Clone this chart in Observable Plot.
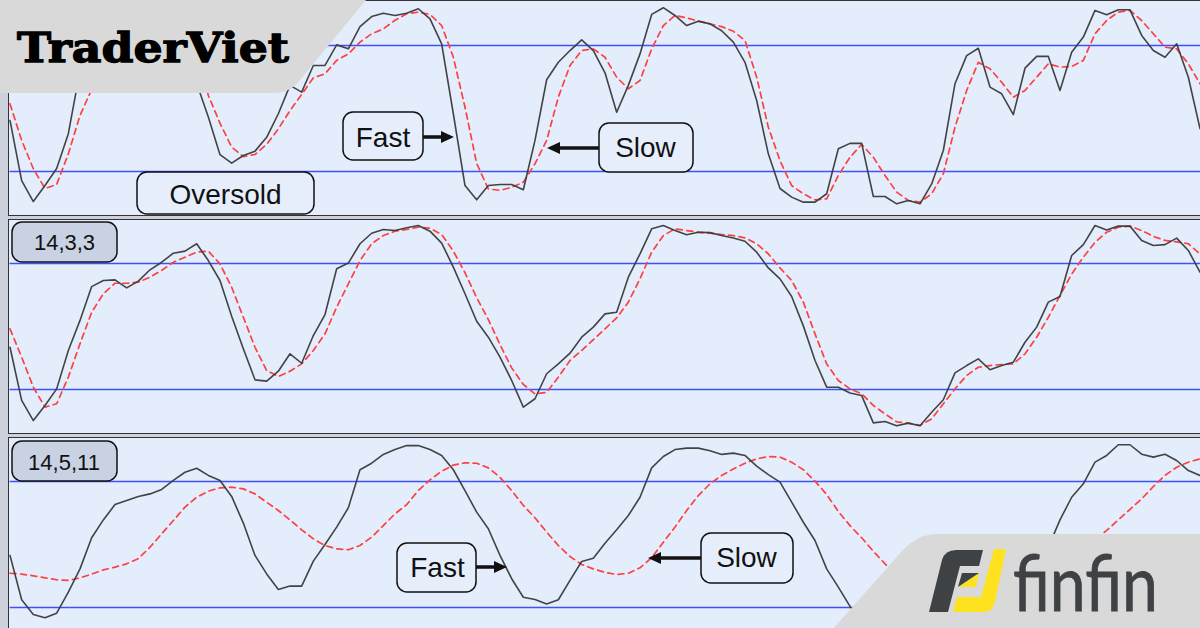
<!DOCTYPE html>
<html><head><meta charset="utf-8">
<script src="https://cdn.jsdelivr.net/npm/d3@7"></script>
<script src="https://cdn.jsdelivr.net/npm/@observablehq/plot@0.6"></script>
<style>
html,body{margin:0;padding:0;background:#ccd1db;}
#root{position:relative;width:1200px;height:628px;overflow:hidden;background:#ccd1db;font-family:"Liberation Sans",Arial,sans-serif;}
.panel{position:absolute;left:8px;width:1200px;box-sizing:border-box;background:#e4edfc;border:1.5px solid #333;}
svg.overlay{position:absolute;left:0;top:0;}
</style></head><body><div id="root"></div>
<script>
// Stochastic oscillator values (0-100), one per bar
const p1Fast = [44.3,15.7,5.7,13.3,21.4,38,68,78,86,90,88,92,94,95,92,80,62,45.9,28,24,27.6,29.7,36.3,47.5,61,57.8,70.5,70.5,80.3,78.4,89,93.8,95.4,94.3,95.4,97.5,92.7,80.8,47.5,13.3,6.5,13.3,13.8,13.8,11.3,34.8,63.7,72,77.6,82.7,77.6,67,48.2,61,76,94.8,98,94.3,89.5,91.6,90.3,87,81.6,72,53.8,28.4,11.9,7.8,5.4,5.4,9.4,30.8,33.4,33.4,8.1,8.1,4.6,6.2,4.6,14.1,30,61.8,75.2,78.7,60.2,57,47.1,69.2,74.8,74.8,58.6,76.8,84,96.7,94.6,97,97,84.8,77.6,74.4,80.8,64.9,40.4];
const p1Slow = [52.2,34.8,21.3,11.9,13.8,28.4,46.7,59,72,82,88,90,91,93,94,89,78,56.2,43,31.6,27.1,28.1,32.9,40.3,49,56.7,64.6,66.5,72.9,76,81.6,85.6,87.9,92,95.1,95.9,94.8,89.5,74.4,50.6,23.8,11.7,11,12.5,14.9,23.7,34.8,55.4,70.5,77.6,78.4,74.4,64.9,59.4,63.3,78.4,89.5,94.3,93.2,91.6,90.3,89,86.8,82.4,64.9,41.1,25.2,13.3,9.4,6.5,7,18.1,26.8,32.9,26.8,18.1,10.2,6.2,5.4,9.4,18.9,41.1,58.6,72,68.9,62.5,55.4,58.6,64.9,71.3,69.7,70,72.9,85.6,91.9,95.9,96.7,91.9,85.6,79.2,78.4,71.3,61.8];
const p2Fast = [40.1,14.8,5.2,12.4,20.3,38.6,52.9,69,71.9,72.2,68.4,71.6,77,80.6,84.9,85.9,89.4,81.4,71.9,54.9,39.4,24.6,24,28.7,37,32.5,45.7,55.7,77.5,80.2,89.4,94.4,96.2,95.7,97,98.1,95.4,89.7,78.3,65.6,52.5,44.9,35.4,24.3,11.6,15.6,27.5,32.2,37.3,44.9,49.7,56,56.8,73.5,84.6,96.5,98.1,95.7,93.7,94.9,94.7,93.3,92.1,90.6,85.4,77.9,72.7,64.3,50.3,33.8,21.1,21.1,18.3,17.1,4.1,4.8,2.7,4,2.7,9.2,15.1,27.9,31.4,34.6,29.4,31.4,33,42.5,49.7,61.6,64.3,83.8,89,98.1,96,97.8,97.8,91,88.6,89,92.1,86.2,75.9];
const p2Slow = [48.9,35.4,21.1,11.6,13.2,25.9,41.8,56.8,65.6,70.6,70.6,71.1,73.5,76.7,80.6,83,85.4,85.9,79.8,68.7,54.4,40.1,29,26.2,28.7,32.2,38.6,46.5,59.2,70.3,81.4,89.4,93.3,95.4,96.2,97.3,96.8,93.8,85.9,75.6,63.7,53.3,41.4,30.3,22.4,17.9,18.6,25.9,33.8,38.6,43.7,48.9,54.1,61.6,72.7,85.4,93.3,96.5,95.7,94.9,94.4,93.8,93.3,92.2,89.4,84.6,77.9,71.9,61.6,46.5,32.2,24.3,20.3,18,12.4,8.4,4.6,4,2.9,6,13.2,20.3,26.7,30.6,31.4,31.9,32.2,37,44.9,54.4,64.8,75,83,90.1,94.9,97.3,97.8,95.7,92.9,91,90.3,89.4,84.6];
const p3Fast = [44.8,23.7,16.7,15.1,17.3,27.3,38.4,53.2,61.7,69,71,72.9,74.1,76.2,80.5,84.4,86.3,82.9,80.5,72.9,60.2,44.8,36,28.6,30.2,30.2,42.1,50,58.3,67.5,85.6,88.7,92.9,95.2,97.1,97.1,95.2,92.4,85.6,75.7,65.4,57.5,44.8,33.7,24.9,23.8,21.7,23.7,32.9,41.9,43.5,50.6,57,63.8,72.5,86.5,91.9,95.2,95.9,95.9,94.6,92.9,93.5,92.4,87.3,83.3,79.7,70.2,60.6,51.9,38.4,29.7,20.5,14,9,6,4,4,5,7,11,17,22,26,29,31,33,36,42,48.7,61.7,72.5,78.9,89.2,92.4,97.5,97.5,93,91.6,93,90,85.2,82.9];
const p3Slow = [36.3,35.9,35.1,34.1,33.2,32.9,34.1,35.9,37.9,39.2,40.8,43.3,48.7,55.1,61.4,67.8,72.5,75.4,77,77.3,76.5,74.1,70.1,66.2,61.7,57,52.7,49.5,47.9,47.5,49.5,53.5,59,64.6,69,75.7,80.8,84.9,87.8,88.9,88.7,86.5,82,75.7,68.6,62.7,55.9,49.5,44.3,40.5,38.4,36.7,35.7,36.3,38.9,43.7,51.1,58.3,66.2,73.3,78.9,82.9,86,88.7,90.8,91.9,91.6,89.2,85.6,80.2,73.8,65.7,59,53.2,46.8,40.8,35,29,24,20,17,15,14,14,15,17,20,24,29,34,39,44,48,52,56.7,61.7,66.7,71.7,77.6,82.9,86.8,89.2,90.8];
const levels = [20, 80];
const panelLabels = ["", "14,3,3", "14,5,11"];
const seriesNames = ["Fast", "Slow"];

const root = document.getElementById("root");
const NS = "http://www.w3.org/2000/svg";

function addPanel(fast, slow, top, h, y0, y100, svgH) {
  const div = document.createElement("div");
  div.className = "panel";
  div.style.top = top + "px";
  div.style.height = h + "px";
  root.appendChild(div);
  const fastData = fast.map((v, i) => ({i, v}));
  const slowData = slow.map((v, i) => ({i, v}));
  const svg = Plot.plot({
    width: 1200, height: svgH,
    marginTop: 0, marginBottom: 0, marginLeft: 9.5, marginRight: 0,
    x: {domain: [0, 102], range: [9.5, 1199.5], axis: null},
    y: {domain: [0, 100], range: [y0 - top, y100 - top], axis: null},
    style: {background: "transparent", overflow: "hidden"},
    marks: [
      Plot.ruleY(levels, {stroke: "#3f52f5", strokeWidth: 1.7}),
      Plot.line(slowData, {x: "i", y: "v", stroke: "#ff4040", strokeWidth: 1.7, strokeDasharray: "6,4.5"}),
      Plot.line(fastData, {x: "i", y: "v", stroke: "#3a3a3a", strokeWidth: 1.6, strokeOpacity: 0.95})
    ]
  });
  svg.style.position = "absolute";
  svg.style.left = "0px";
  svg.style.top = top + "px";
  root.appendChild(svg);
}

addPanel(p1Fast, p1Slow, 0, 216, 213, 3, 216);
addPanel(p2Fast, p2Slow, 219, 215, 431, 221, 215);
addPanel(p3Fast, p3Slow, 437, 200, 649, 439, 191);

// Annotation & logo overlay
const ov = document.createElementNS(NS, "svg");
ov.setAttribute("class", "overlay");
ov.setAttribute("width", 1200);
ov.setAttribute("height", 628);
root.appendChild(ov);
function el(tag, attrs, text) {
  const e = document.createElementNS(NS, tag);
  for (const k in attrs) e.setAttribute(k, attrs[k]);
  if (text != null) e.textContent = text;
  ov.appendChild(e);
  return e;
}
function box(x, y, w, h, fill, label, tx, ty, size) {
  el("rect", {x, y, width: w, height: h, rx: 10, ry: 10, fill, stroke: "#111", "stroke-width": 1.5});
  el("text", {x: tx, y: ty, "text-anchor": "middle", "font-family": "Liberation Sans, Arial, sans-serif", "font-size": size, fill: "#111"}, label);
}
function arrow(x1, x2, y, dir) {
  if (dir > 0) {
    el("line", {x1, y1: y, x2: x2 - 10, y2: y, stroke: "#111", "stroke-width": 3.5});
    el("polygon", {points: `${x2-13},${y-6} ${x2},${y} ${x2-13},${y+6}`, fill: "#111"});
  } else {
    el("line", {x1: x1 + 10, y1: y, x2, y2: y, stroke: "#111", "stroke-width": 3.5});
    el("polygon", {points: `${x1+13},${y-6} ${x1},${y} ${x1+13},${y+6}`, fill: "#111"});
  }
}
const boxFill = "#e6eefc", tagFill = "#c9d2e3";
box(343, 112, 80, 48, boxFill, seriesNames[0], 383, 146.5, 28);
arrow(423, 454, 137, 1);
box(599, 123, 94, 49, boxFill, seriesNames[1], 645.5, 157, 28);
arrow(547, 599, 148, -1);
box(137, 172, 177, 42, boxFill, "Oversold", 225.5, 203.5, 28);
box(12, 222, 105, 40, tagFill, panelLabels[1], 64.5, 250, 22);
box(12, 441, 105, 40, tagFill, panelLabels[2], 64, 469.5, 22);
box(397, 543, 79, 49, boxFill, seriesNames[0], 437.5, 576.5, 28);
arrow(476, 507, 567, 1);
box(701, 533, 92, 50, boxFill, seriesNames[1], 746.5, 566.5, 28);
arrow(648, 701, 558, -1);

// TraderViet logo
el("path", {d: "M0,0 L366,0 L300,80 Q290,93 274,93 L0,93 Z", fill: "#d9d9d9"});
el("text", {x: 17, y: 62, "font-family": "DejaVu Serif, serif", "font-weight": "bold", "font-size": 41, fill: "#000", stroke: "#000", "stroke-width": 1.3, textLength: 272, lengthAdjust: "spacingAndGlyphs"}, "TraderViet");

// finfin logo
el("path", {d: "M832,630 L903,550 Q918,534 938,534 L1202,534 L1202,630 Z", fill: "#d9d9d9"});
el("path", {d: "M929,612 L942,560 Q945,550 956,550 L983,550 L979,566 L960,566 L948,612 Z", fill: "#3f4245"});
el("path", {d: "M994,549 L1006,549 L995,602 Q993,612 983,612 L953,612 L957,597 L981,597 Z", fill: "#ffe21f"});
el("polygon", {points: "958,587 979,573 976,587", fill: "#ffe21f"});
el("polygon", {points: "958,587 962,573 979,573", fill: "#3f4245"});
el("text", {x: 1013, y: 611, "font-family": "Lato, sans-serif", "font-size": 78, fill: "#3f4245", stroke: "#3f4245", "stroke-width": 0.8, textLength: 145, lengthAdjust: "spacingAndGlyphs"}, "finfin");
</script></body></html>
